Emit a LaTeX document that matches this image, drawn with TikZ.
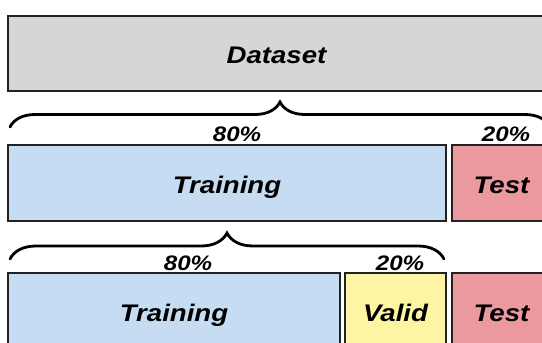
\documentclass[tikz,border=0pt]{standalone}
\usepackage{graphicx}
\usepackage{fontspec}
\setmainfont{Liberation Sans}
\usetikzlibrary{decorations.pathreplacing}
\definecolor{dsgray}{HTML}{D6D6D6}
\definecolor{trblue}{HTML}{C6DCF3}
\definecolor{tspink}{HTML}{EC989F}
\definecolor{vlyellow}{HTML}{FDF5A3}
\definecolor{edgecol}{HTML}{222222}
\newcommand{\widetext}[1]{\scalebox{1.15}[1]{#1}}
\begin{document}
\begin{tikzpicture}[x=1pt,y=-1pt,
  part/.style={draw=edgecol, line width=2pt, rectangle, inner sep=0pt, outer sep=0pt,
    anchor=north west, minimum height=76pt, text height=20.5pt, text depth=0pt,
    font=\fontsize{24}{24}\selectfont\bfseries\itshape},
  pct/.style={anchor=base, inner sep=0pt, font=\fontsize{21}{21}\selectfont\bfseries\itshape},
  splitbrace/.style={decorate, decoration={brace, amplitude=#1}, line width=2.8pt, line cap=round}]
\useasboundingbox (0,0) rectangle (542,343);
\clip (0,0) rectangle (542,343);

% row 1
\node[part, fill=dsgray, minimum width=537pt, minimum height=75.5pt] (ds) at (8,15.5) {\widetext{Dataset}};

% brace 1
\coordinate (b1a) at (10,127);
\coordinate (b1b) at (550,127);
\draw[splitbrace=25pt] (b1a) -- (b1b);
\node[pct] (p1a) at (237,141.5) {\widetext{80\%}};
\node[pct] (p1b) at (506,141.5) {\widetext{20\%}};

% row 2
\node[part, fill=trblue, minimum width=438pt] (tr1) at (8,145) {\widetext{Training}};
\node[part, fill=tspink, minimum width=99pt] (ts1) at (452,145) {\widetext{Test}};

% brace 2
\coordinate (b2a) at (10,259);
\coordinate (b2b) at (444,259);
\draw[splitbrace=26pt] (b2a) -- (b2b);
\node[pct] (p2a) at (188,270.5) {\widetext{80\%}};
\node[pct] (p2b) at (400,270.5) {\widetext{20\%}};

% row 3
\node[part, fill=trblue, minimum width=332pt] (tr2) at (8,273) {\widetext{Training}};
\node[part, fill=vlyellow, minimum width=101pt] (vl2) at (345,273) {\widetext{Valid}};
\node[part, fill=tspink, minimum width=99pt] (ts2) at (452,273) {\widetext{Test}};
\end{tikzpicture}
\end{document}
